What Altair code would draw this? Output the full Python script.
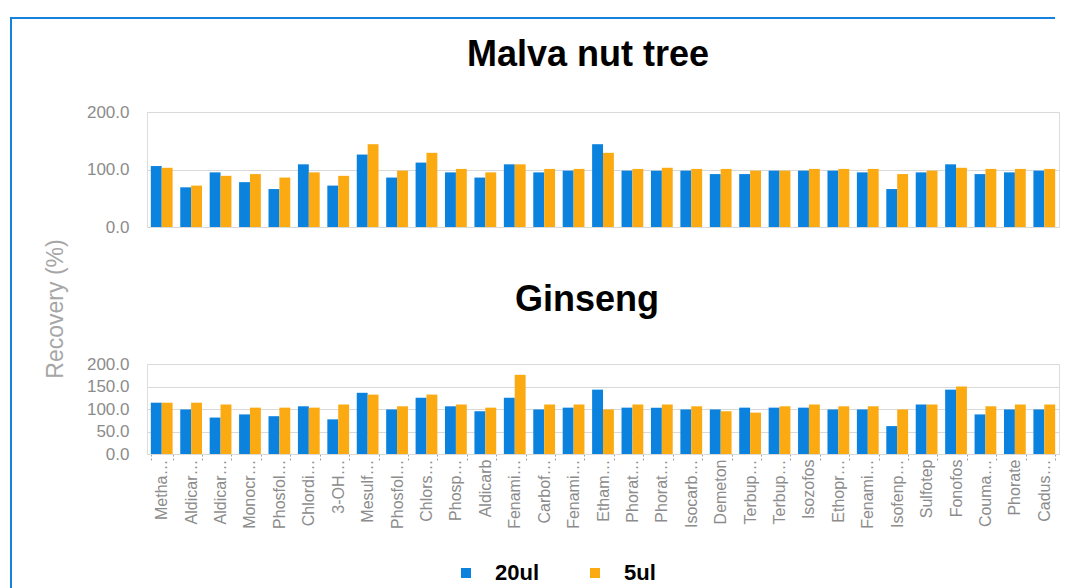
import altair as alt
import pandas as pd

labels = ["Metha…", "Aldicar…", "Aldicar…", "Monocr…", "Phosfol…", "Chlordi…", "3-OH…",
          "Mesulf…", "Phosfol…", "Chlors…", "Phosp…", "Aldicarb", "Fenami…", "Carbof…",
          "Fenami…", "Etham…", "Phorat…", "Phorat…", "Isocarb…", "Demeton", "Terbup…",
          "Terbup…", "Isozofos", "Ethopr…", "Fenami…", "Isofenp…", "Sulfotep", "Fonofos",
          "Couma…", "Phorate", "Cadus…"]

series = ["20ul", "5ul"]

malva_20 = [106, 69, 95, 78, 66, 109, 72, 126, 86, 112, 95, 86, 109, 95, 98, 144,
            98, 98, 98, 92, 92, 98, 98, 98, 95, 66, 95, 109, 92, 95, 98]
malva_5 = [103, 72, 89, 92, 86, 95, 89, 144, 98, 129, 101, 95, 109, 101, 101, 129,
           101, 103, 101, 101, 98, 98, 101, 101, 101, 92, 98, 103, 101, 101, 101]
ginseng_20 = [114, 99, 81, 88, 84, 106, 77, 136, 99, 125, 106, 95, 125, 99, 103, 143,
              103, 103, 99, 99, 103, 103, 103, 99, 99, 62, 110, 143, 88, 99, 99]
ginseng_5 = [114, 114, 110, 103, 103, 103, 110, 132, 106, 132, 110, 103, 176, 110, 110, 99,
             110, 110, 106, 95, 92, 106, 110, 106, 106, 99, 110, 150, 106, 110, 110]

colors = ["#0a82de", "#fbaa12"]
FONT = "Liberation Sans"
W, H_TOP, H_BOT = 912, 115, 90


def make_df(a, b):
    rows = []
    for i in range(len(labels)):
        rows.append({"idx": i, "series": series[0], "value": a[i]})
        rows.append({"idx": i, "series": series[1], "value": b[i]})
    return pd.DataFrame(rows)


df_top = make_df(malva_20, malva_5)
df_bot = make_df(ginseng_20, ginseng_5)

label_expr = "[" + ",".join("'" + s + "'" for s in labels) + "][datum.value]"

xscale = alt.Scale(paddingInner=0.26, paddingOuter=0.13)
color_enc = alt.Color(
    "series:N",
    scale=alt.Scale(domain=series, range=colors),
    legend=alt.Legend(
        title=None, orient="none", direction="horizontal", legendX=308, legendY=450,
        symbolType="square", symbolSize=100, symbolStrokeWidth=0,
        labelFontSize=22, labelFontWeight="bold", labelColor="#000000", labelFont=FONT,
        labelOffset=18, columnPadding=44, padding=0,
    ),
)
yaxis_common = dict(title=None, format=".1f", domain=False, ticks=False,
                    labelFontSize=17, labelColor="#8c8c8c", labelFont=FONT,
                    labelPadding=18, gridColor="#d9d9d9")

top_bars = alt.Chart(df_top).mark_bar().encode(
    x=alt.X("idx:O", scale=xscale,
            axis=alt.Axis(title=None, labels=False, ticks=False, domainColor="#d9d9d9")),
    xOffset=alt.XOffset("series:N", sort=series),
    y=alt.Y("value:Q", scale=alt.Scale(domain=[0, 200]),
            axis=alt.Axis(values=[0, 100, 200], **yaxis_common)),
    color=color_enc,
)

frame_data = alt.Data(values=[{"a": 1}])
frame_top = alt.Chart(frame_data).mark_rule(color="#1583dd", strokeWidth=2).encode(
    x=alt.value(-136), x2=alt.value(908), y=alt.value(-94))
frame_left = alt.Chart(frame_data).mark_rule(color="#1583dd", strokeWidth=2).encode(
    x=alt.value(-136), y=alt.value(-95), y2=alt.value(478))

top_title = alt.Chart(alt.Data(values=[{"t": "Malva nut tree"}])).mark_text(
    fontSize=36, fontWeight="bold", font=FONT, color="#000000", baseline="alphabetic", align="center"
).encode(text="t:N", x=alt.value(441), y=alt.value(-46))

ytitle = alt.Chart(alt.Data(values=[{"t": "Recovery (%)"}])).mark_text(
    fontSize=23, font=FONT, color="#a6a6a6", angle=270, align="center", baseline="middle"
).encode(text="t:N", x=alt.value(-91), y=alt.value(197))

top = alt.layer(frame_top, frame_left, top_bars, top_title, ytitle).properties(width=W, height=H_TOP)

bot_bars = alt.Chart(df_bot).mark_bar().encode(
    x=alt.X("idx:O", scale=xscale,
            axis=alt.Axis(title=None, labelExpr=label_expr, labelAngle=270,
                          labelFontSize=16, labelColor="#8c8c8c", labelFont=FONT,
                          domainColor="#d9d9d9", tickBand="extent", tickDash=[2, 2],
                          tickColor="#a0a0a0", tickSize=7, labelPadding=-2)),
    xOffset=alt.XOffset("series:N", sort=series),
    y=alt.Y("value:Q", scale=alt.Scale(domain=[0, 200]),
            axis=alt.Axis(values=[0, 50, 100, 150, 200], **yaxis_common)),
    color=color_enc,
)

bot_title = alt.Chart(alt.Data(values=[{"t": "Ginseng"}])).mark_text(
    fontSize=36, fontWeight="bold", font=FONT, color="#000000", baseline="alphabetic", align="center"
).encode(text="t:N", x=alt.value(440), y=alt.value(-53))

bot = alt.layer(bot_bars, bot_title).properties(width=W, height=H_BOT)

chart = alt.vconcat(top, bot, spacing=137, bounds="flush").resolve_scale(
    y="independent", color="shared"
).properties(
    padding={"left": 1, "top": 7, "right": 0, "bottom": 0}
).configure_view(stroke=None).configure(font=FONT)

chart.save("out.html", embed_options={"renderer": "svg", "actions": False})
